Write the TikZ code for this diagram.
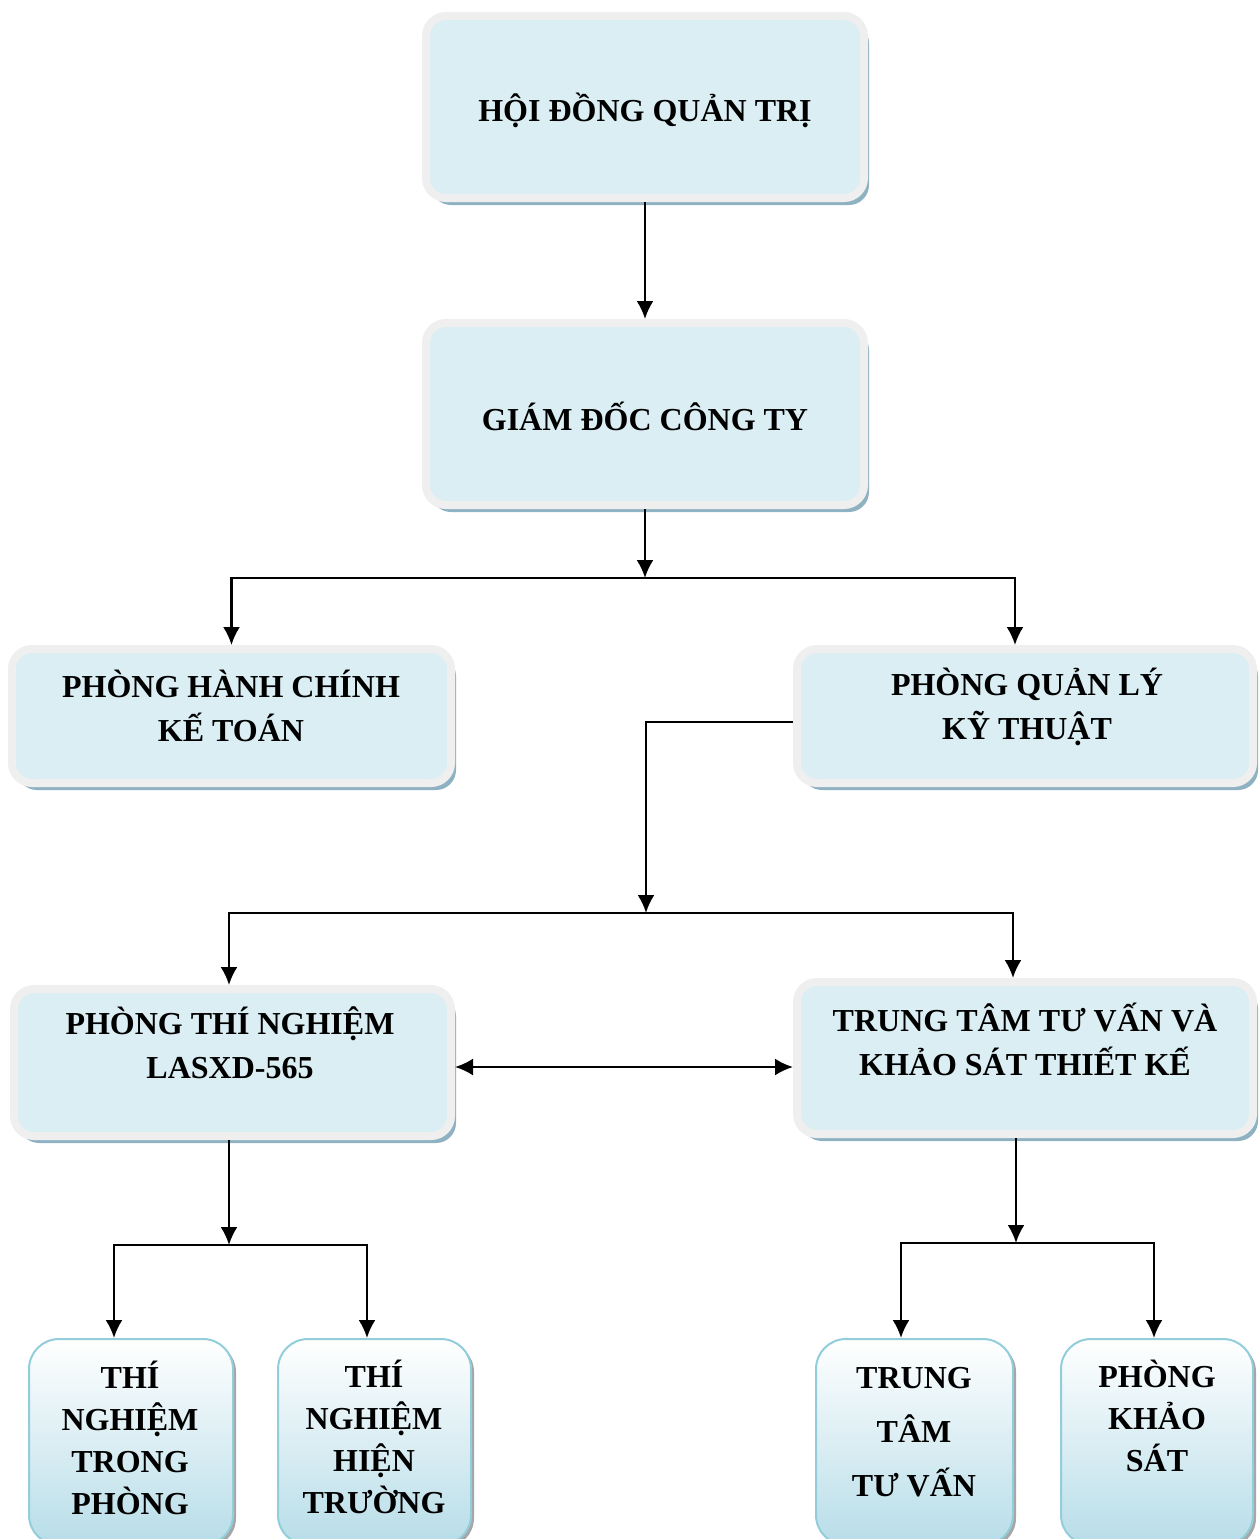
\documentclass[tikz,border=0pt]{standalone}
\usepackage{fontspec}
\setmainfont{Liberation Serif}
\usetikzlibrary{arrows.meta,shadows}
\definecolor{boxfill}{HTML}{DAEEF3}
\definecolor{boxrim}{HTML}{EFEFEF}
\definecolor{boxshade}{HTML}{8FB2C2}
\definecolor{leafrim}{HTML}{93CDDC}
\definecolor{leafbot}{HTML}{B7DDE8}
\begin{document}
\begin{tikzpicture}[
                        x=0.5pt, y=-0.5pt,
                        >={Latex[length=9pt,width=8.5pt]},
                        unitbox/.style={rectangle, rounded corners=10pt, draw=boxrim, line width=4pt, fill=boxfill,
                            drop shadow={shadow xshift=2.5pt, shadow yshift=-3.5pt, fill=boxshade, opacity=1}},
                        leafbox/.style={rectangle, rounded corners=15pt, draw=leafrim, line width=1pt,
                            top color=white, bottom color=leafbot,
                            drop shadow={shadow xshift=1.5pt, shadow yshift=-1.5pt, fill=gray!70, opacity=1}},
                        boxtext/.style={font=\bfseries\fontsize{16}{22}\selectfont, align=center, inner sep=0pt},
                        link/.style={line width=1.2pt}
                    ]
                    \useasboundingbox (0,0) rectangle (1260,1539);
                    % Blocks
                    \node [unitbox, minimum width=219pt, minimum height=91pt] (hdqt) at (645,107) {};
                    \node [boxtext] (hdqt-text) at (645,110) {HỘI ĐỒNG QUẢN TRỊ};
                    \node [unitbox, minimum width=219pt, minimum height=91pt] (giamdoc) at (645,414) {};
                    \node [boxtext] (giamdoc-text) at (645,416) {GIÁM ĐỐC CÔNG TY};
                    \node [unitbox, minimum width=219.5pt, minimum height=67pt] (hanhchinh) at (231.5,716) {};
                    \node [boxtext] (hanhchinh-text) at (231,706) {PHÒNG HÀNH CHÍNH\\KẾ TOÁN};
                    \node [unitbox, minimum width=228pt, minimum height=67pt] (kythuat) at (1025,716) {};
                    \node [boxtext] (kythuat-text) at (1027,707) {PHÒNG QUẢN LÝ\\KỸ THUẬT};
                    \node [unitbox, minimum width=218.5pt, minimum height=73.5pt] (thinghiem) at (232.5,1062.5) {};
                    \node [boxtext] (thinghiem-text) at (230,1043) {PHÒNG THÍ NGHIỆM\\LASXD-565};
                    \node [unitbox, minimum width=228pt, minimum height=76pt] (tuvan) at (1025,1058) {};
                    \node [boxtext] (tuvan-text) at (1025,1039) {TRUNG TÂM TƯ VẤN VÀ\\KHẢO SÁT THIẾT KẾ};
                    \node [leafbox, minimum width=102pt, minimum height=103pt] (tnphong) at (131,1442) {};
                    \node [boxtext, font=\bfseries\fontsize{16}{21}\selectfont] (tnphong-text) at (130,1438) {THÍ\\NGHIỆM\\TRONG\\PHÒNG};
                    \node [leafbox, minimum width=96.5pt, minimum height=103pt] (tnhientruong) at (374.5,1442) {};
                    \node [boxtext, font=\bfseries\fontsize{16}{21}\selectfont] (tnhientruong-text) at (374,1437) {THÍ\\NGHIỆM\\HIỆN\\TRƯỜNG};
                    \node [leafbox, minimum width=98.5pt, minimum height=103pt] (ttuvan) at (914.5,1442) {};
                    \node [boxtext, font=\bfseries\fontsize{16}{27}\selectfont] (ttuvan-text) at (914,1432) {TRUNG\\TÂM\\TƯ VẤN};
                    \node [leafbox, minimum width=96pt, minimum height=103pt] (khaosat) at (1157,1442) {};
                    \node [boxtext, font=\bfseries\fontsize{16}{21}\selectfont] (khaosat-text) at (1157,1416) {PHÒNG\\KHẢO\\SÁT};
                    \coordinate (fork1) at (645,578);
                    \coordinate (fork2) at (646,913);
                    \coordinate (fork3) at (229,1245);
                    \coordinate (fork4) at (1016,1243);

                    % Connections
                    \draw [link,->] (hdqt) -- (giamdoc);
                    \draw [link,->] (giamdoc) -- (fork1);
                    \draw [link,->] (fork1) -| (hanhchinh.north);
                    \draw [link,->] (fork1) -| ([xshift=-5pt]kythuat.north);
                    \draw [link,->] ([yshift=-3pt]kythuat.west) -| (fork2);
                    \draw [link,->] (fork2) -| ([xshift=-1.75pt]thinghiem.north);
                    \draw [link,->] (fork2) -| ([xshift=-6pt]tuvan.north);
                    \draw [link,<->] ([yshift=-2.25pt]thinghiem.east) -- ([yshift=-2.25pt]thinghiem.east -| tuvan.west);
                    \draw [link,->] ([xshift=-1.75pt]thinghiem.south) -- (fork3);
                    \draw [link,->] (fork3) -| ([xshift=-8.5pt]tnphong.north);
                    \draw [link,->] (fork3) -| ([xshift=-3.75pt]tnhientruong.north);
                    \draw [link,->] ([xshift=-4.5pt]tuvan.south) -- (fork4);
                    \draw [link,->] (fork4) -| ([xshift=-6.75pt]ttuvan.north);
                    \draw [link,->] (fork4) -| ([xshift=-1.5pt]khaosat.north);
                \end{tikzpicture}
\end{document}
